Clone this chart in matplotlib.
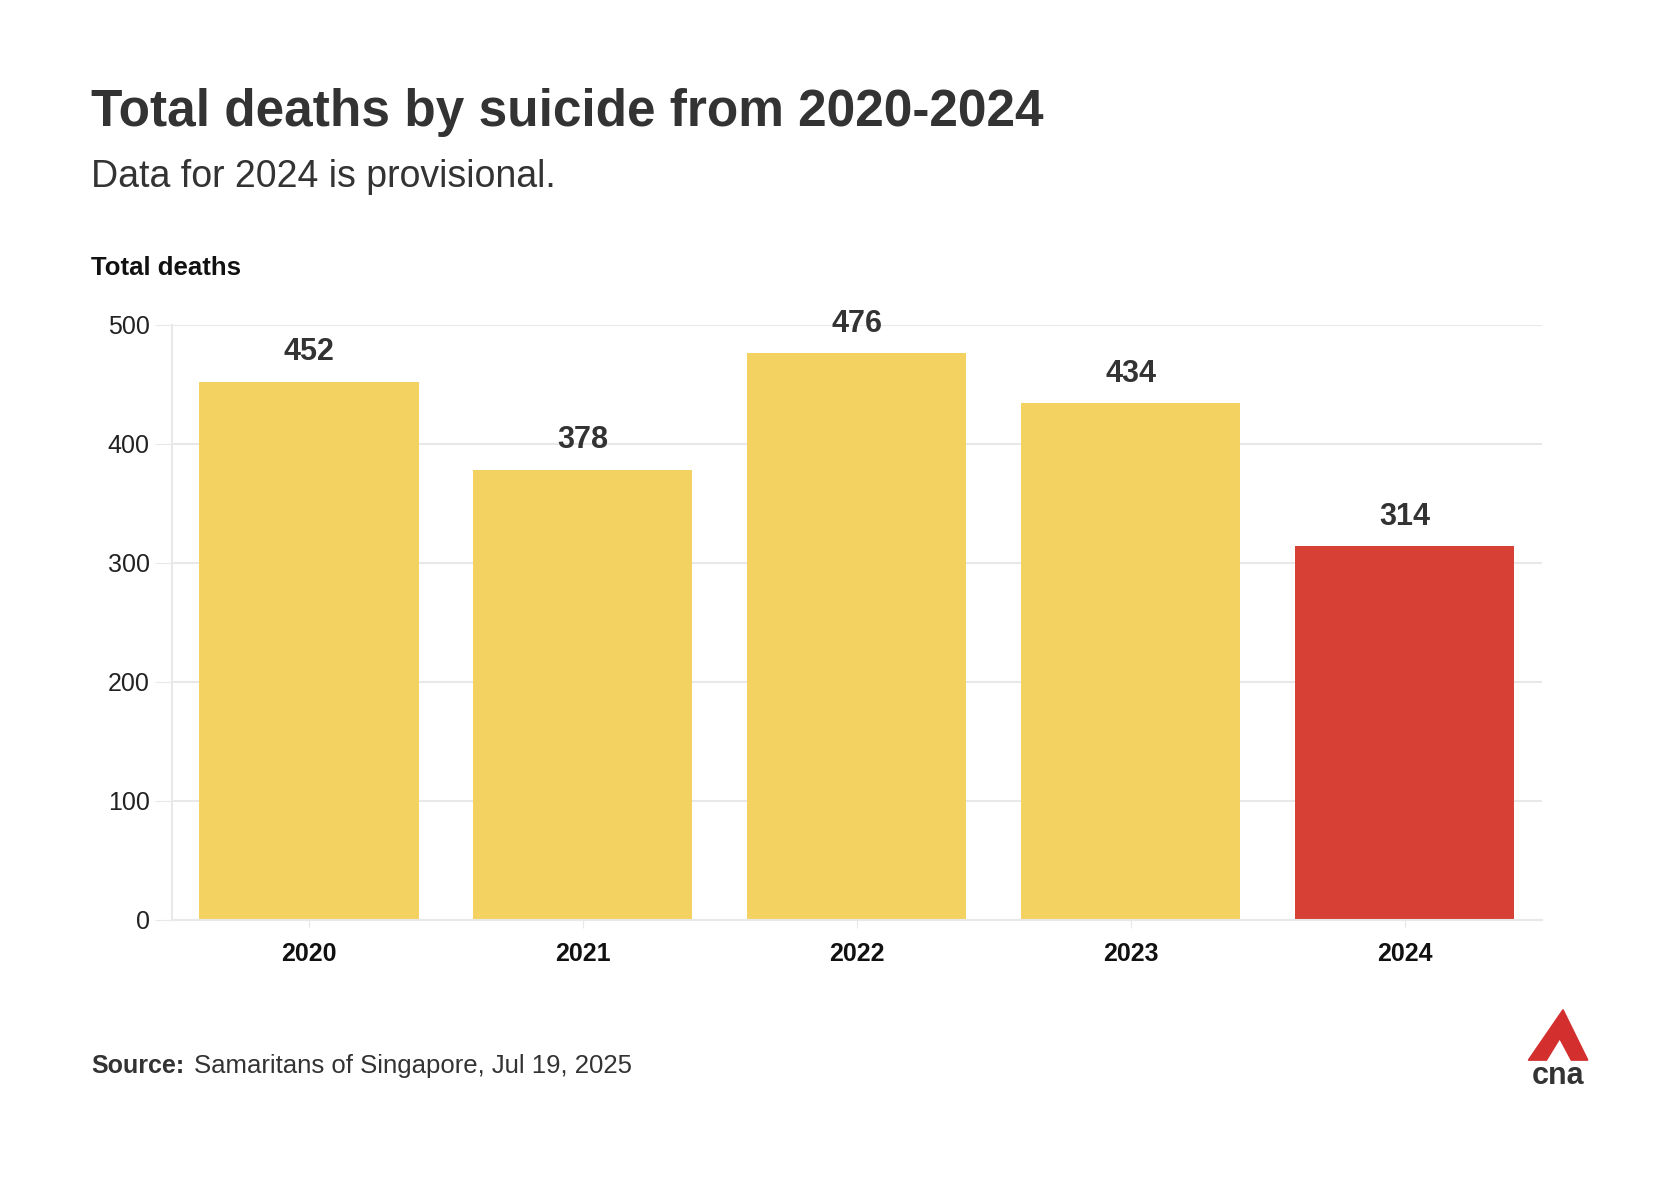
import matplotlib
matplotlib.use("Agg")
import matplotlib.pyplot as plt
from matplotlib.patches import Polygon

years = ["2020", "2021", "2022", "2023", "2024"]
deaths = [452, 378, 476, 434, 314]
colors = ["#f4d262", "#f4d262", "#f4d262", "#f4d262", "#d64035"]
yticks = [0, 100, 200, 300, 400, 500]

plt.rcParams['font.family'] = ['Liberation Sans', 'DejaVu Sans']
fig = plt.figure(figsize=(16.54, 12.02), dpi=100)
fig.patch.set_facecolor("white")
ax = fig.add_axes([0.104, 0.235, 0.828, 0.495])
x = range(len(years))
ax.bar(x, deaths, width=0.8, color=colors, zorder=2)
for i, v in enumerate(deaths):
    ax.text(i, v + 12, str(v), ha="center", va="bottom", fontsize=22,
            fontweight="bold", color="#333333")
ax.set_xlim(-0.5, 4.5)
ax.set_ylim(0, 500)
ax.set_yticks(yticks)
ax.set_yticklabels([str(t) for t in yticks], fontsize=18, color="#222222")
ax.set_xticks(list(x))
ax.set_xticklabels(years, fontsize=18, fontweight="bold", color="#111111")
ax.grid(axis="y", color="#e8e8e8", linewidth=1.5, zorder=0)
for s in ["top", "right"]:
    ax.spines[s].set_visible(False)
ax.spines["left"].set_color("#e8e8e8")
ax.spines["bottom"].set_color("#e8e8e8")
ax.spines["left"].set_linewidth(1.5)
ax.spines["bottom"].set_linewidth(1.5)
ax.tick_params(axis="y", length=12, color="#e8e8e8", pad=4)
ax.tick_params(axis="x", length=6, color="#e8e8e8", pad=10)

fig.text(0.055, 0.906, "Total deaths by suicide from 2020-2024", fontsize=37,
         fontweight="bold", color="#333333", va="center")
fig.text(0.055, 0.853, "Data for 2024 is provisional.", fontsize=27,
         color="#333333", va="center")
fig.text(0.055, 0.777, "Total deaths", fontsize=18.5, fontweight="bold",
         color="#111111", va="center")
fig.text(0.055, 0.113, "Source:", fontsize=18, fontweight="bold",
         color="#333333", va="center")
fig.text(0.117, 0.113, "Samaritans of Singapore, Jul 19, 2025", fontsize=18.5,
         color="#333333", va="center")

# logo
tri = Polygon([[0.924, 0.118], [0.945, 0.160], [0.960, 0.118], [0.950, 0.118],
               [0.943, 0.136], [0.935, 0.118]], closed=True,
              transform=fig.transFigure, color="#d32f2f")
fig.patches.append(tri)
fig.text(0.942, 0.105, "cna", fontsize=22, fontweight="bold", color="#333333",
         ha="center", va="center")

fig.savefig("out.png", dpi=100)
